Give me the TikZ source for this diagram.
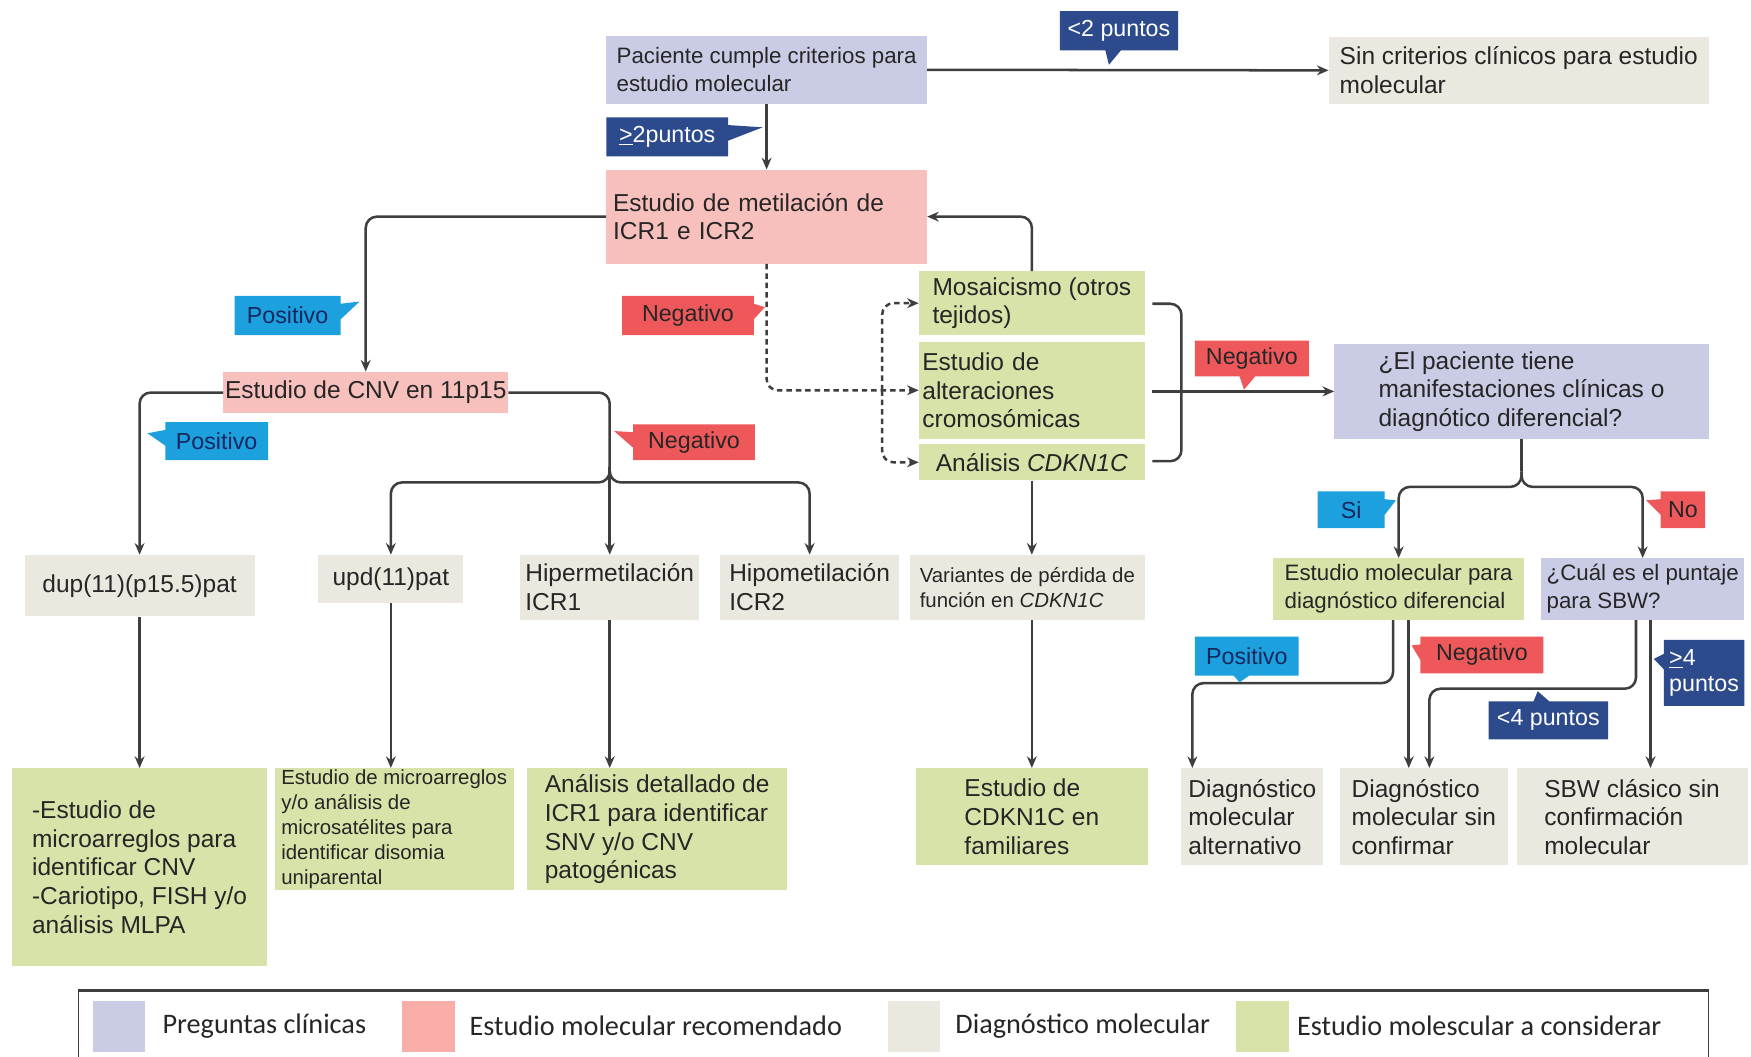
\documentclass[tikz,border=0pt]{standalone}
\usepackage{fontspec}
\setmainfont{Liberation Sans}
\newfontfamily\legendfont{Carlito}
\usetikzlibrary{arrows.meta,calc,positioning,shapes.callouts}

\definecolor{qblue}{RGB}{201,204,228}
\definecolor{rpink}{RGB}{248,192,188}
\definecolor{dbeige}{RGB}{235,233,223}
\definecolor{cgreen}{RGB}{215,227,168}
\definecolor{navyc}{RGB}{44,74,140}
\definecolor{cyanc}{RGB}{28,160,222}
\definecolor{redc}{RGB}{238,88,90}
\definecolor{linec}{RGB}{62,62,62}
\definecolor{txtc}{RGB}{38,38,38}
\definecolor{tagtxt}{RGB}{22,40,95}

\tikzset{
  fbig/.style          = {font=\fontsize{15.6}{18.3}\selectfont},
  fmid/.style          = {font=\fontsize{14.2}{17.8}\selectfont},
  fsmall/.style        = {font=\fontsize{13}{15.8}\selectfont},
  box/.style 2 args    = {inner sep=0pt, align=left, text=txtc,
                          minimum width=#1*0.25mm, minimum height=#2*0.25mm},
  qbox/.style 2 args   = {box={#1}{#2}, fill=qblue},
  rbox/.style 2 args   = {box={#1}{#2}, fill=rpink},
  dbox/.style 2 args   = {box={#1}{#2}, fill=dbeige},
  gbox/.style 2 args   = {box={#1}{#2}, fill=cgreen},
  tag/.style 2 args    = {rectangle callout, inner sep=0pt, align=left,
                          minimum width=#1*0.25mm, minimum height=#2*0.25mm,
                          callout pointer width=3.5mm,
                          font=\fontsize{14.8}{17}\selectfont},
  navytag/.style 2 args= {tag={#1}{#2}, fill=navyc, text=white},
  postag/.style 2 args = {tag={#1}{#2}, fill=cyanc, text=tagtxt},
  negtag/.style 2 args = {tag={#1}{#2}, fill=redc, text=black!85},
  conn/.style          = {draw=linec, line width=1.6pt, rounded corners=2.5mm},
  arr/.style           = {conn, -{Stealth[length=2.6mm,width=2.2mm]}},
  dotarr/.style        = {arr, dash pattern=on 3.5pt off 2.5pt},
  swatch/.style        = {inner sep=0pt, minimum width=11.75mm, minimum height=11.5mm},
  legtext/.style       = {inner sep=0pt, text=txtc, font=\legendfont\fontsize{18}{20}\selectfont},
}

\begin{document}
\begin{tikzpicture}[x=0.25mm, y=-0.25mm]
  \useasboundingbox (0,0) rectangle (1568,946);

  % top
  \node[qbox={287}{61}, fmid] (paciente) at (686.5,62.5)
       {Paciente cumple criterios para\\estudio molecular};
  \node[dbox={340}{60}, fbig] (sincrit) at (1360,63)
       {Sin criterios clínicos para estudio\\molecular};
  \node[rbox={287}{84}, fbig, text width=68.75mm] (metil) at (686.5,194)
       {Estudio de metilación de\\ICR1 e ICR2};

  % left branch
  \node[rbox={255}{37}, fbig] (cnv) at (327.5,351.5) {Estudio de CNV en 11p15};
  \node[dbox={206}{55}, fbig] (dup) at (125,524.5) {dup(11)(p15.5)pat};
  \node[dbox={130}{43}, fbig] (upd) at (350,518.5) {upd(11)pat};
  \node[dbox={160}{58}, fbig] (hiper) at (546,526) {Hipermetilación\\ICR1};
  \node[dbox={160}{58}, fbig] (hipo) at (725,526) {Hipometilación\\ICR2};
  \node[gbox={228}{177}, fbig] (arreglos) at (125,776.5)
       {-Estudio de\\microarreglos para\\identificar CNV\\-Cariotipo, FISH y/o\\análisis MLPA};
  \node[gbox={214}{109}, fsmall] (disomia) at (353,742.5)
       {Estudio de microarreglos\\y/o análisis de\\microsatélites para\\identificar disomia\\uniparental};
  \node[gbox={233}{109}, fbig] (icrdet) at (588.5,742.5)
       {Análisis detallado de\\ICR1 para identificar\\SNV y/o CNV\\patogénicas};

  % middle
  \node[gbox={202}{57}, fbig] (mosaico) at (924,271.5) {Mosaicismo (otros\\tejidos)};
  \node[gbox={202}{87}, fbig, text width=49mm] (alter) at (924,349.5)
       {Estudio de\\alteraciones\\cromosómicas};
  \node[gbox={202}{32}, fbig] (cdkn) at (924,414) {Análisis \textit{CDKN1C}};
  \node[dbox={210}{58}, fsmall] (variantes) at (920,526)
       {Variantes de pérdida de\\función en \textit{CDKN1C}};
  \node[gbox={208}{87}, fbig] (familiares) at (924,731.5) {Estudio de\\CDKN1C en\\familiares};

  % right
  \node[qbox={335}{85}, fbig] (pregunta) at (1362.5,350.5)
       {¿El paciente tiene\\manifestaciones clínicas o\\diagnótico diferencial?};
  \node[gbox={225}{55}, fmid] (difer) at (1252.5,527.5)
       {Estudio molecular para\\diagnóstico diferencial};
  \node[qbox={182}{55}, fmid] (puntaje) at (1471,527.5) {¿Cuál es el puntaje\\para SBW?};
  \node[dbox={127}{87}, fbig] (alterna) at (1121.5,731.5) {Diagnóstico\\molecular\\alternativo};
  \node[dbox={150}{87}, fbig] (sinconf) at (1275,731.5) {Diagnóstico\\molecular sin\\confirmar};
  \node[dbox={207}{87}, fbig] (clasico) at (1461.5,731.5) {SBW clásico sin\\confirmación\\molecular};

  % connectors
  \draw[arr] (paciente.east) -- (sincrit.west);
  \draw[arr] (paciente) -- (metil);
  \draw[arr] (metil.west) -| (cnv.north);
  \draw[arr] (cnv.west) -| (dup.north);
  \coordinate (cnvknee)  at (546,418);
  \coordinate (cnvsplit) at (546,432);
  \draw[conn] (cnv.east) -| (cnvknee);
  \draw[arr] (cnvknee) -- (hiper.north);
  \draw[arr] (cnvknee) |- (cnvsplit -| upd.north) -- (upd.north);
  \draw[arr] (cnvknee) |- (cnvsplit -| hipo.north) -- (hipo.north);
  \draw[arr] (dup.south) -- (arreglos.north);
  \draw[arr] (upd.south) -- (upd.south |- disomia.north);
  \draw[arr] (hiper.south) -- (hiper.south |- icrdet.north);

  \coordinate (dotsplit) at (790,349.5);
  \draw[dotarr] (metil.south) |- (alter.west);
  \draw[dotarr] (dotsplit) |- (mosaico.west);
  \draw[dotarr] (dotsplit) |- (cdkn.west);
  \draw[arr] (mosaico.north) |- (metil.east);

  \coordinate (brtop) at (1032,272);
  \coordinate (brmid) at (1032,350.5);
  \coordinate (brbot) at (1032,413);
  \draw[conn] (brtop) -- ++(26,0) |- (brbot);
  \draw[arr] (brmid) -- (brmid -| pregunta.west);
  \draw[arr] (cdkn.south) -- (cdkn.south |- variantes.north);
  \draw[arr] (cdkn.south |- variantes.south) -- (cdkn.south |- familiares.north);

  \coordinate (qknee)  at (1362.5,422);
  \coordinate (qsplit) at (1362.5,436);
  \draw[conn] (pregunta.south) -- (qknee);
  \draw[arr] (qknee) |- (qsplit -| difer.north) -- (difer.north);
  \draw[arr] (qknee) |- (qsplit -| puntaje.north) -- (puntaje.north);

  \coordinate (difL)   at ($(difer.south)+(-5,0)$);
  \coordinate (difR)   at ($(difer.south)+(9,0)$);
  \coordinate (punL)   at ($(puntaje.south)+(-6,0)$);
  \coordinate (punR)   at ($(puntaje.south)+(7,0)$);
  \coordinate (altin)  at ($(alterna.north west)+(10,0)$);
  \coordinate (confin) at ($(sinconf.north)+(5,0)$);
  \draw[arr] (difL) |- ($(altin)+(0,-76)$) -- (altin);
  \draw[arr] (difR) -- (difR |- sinconf.north);
  \draw[arr] (punL) |- ($(confin)+(0,-71)$) -- (confin);
  \draw[arr] (punR) -- (punR |- clasico.north);

  % labels
  \node[navytag={106}{35}, callout absolute pointer={(993,58)}] (menos2) at (1002,27.5) {<2 puntos};
  \node[navytag={109}{35}, callout absolute pointer={(683,114)}] (mas2) at (597.5,122.5) {\underline{>}2puntos};
  \node[postag={95}{35}, callout absolute pointer={(322,270)}] (pos1) at (257.5,282.5) {Positivo};
  \node[negtag={118}{35}, callout absolute pointer={(685,275)}] (neg1) at (616,282.5) {Negativo};
  \node[postag={92}{34}, callout absolute pointer={(132,388)}] (pos2) at (194,395) {Positivo};
  \node[negtag={109}{32}, callout absolute pointer={(550,386)}] (neg2) at (621.5,396) {Negativo};
  \node[negtag={102}{32}, callout absolute pointer={(1114,349)}] (neg3) at (1121,321) {Negativo};
  \node[postag={60}{33}, callout absolute pointer={(1250,448)}] (si) at (1210,456.5) {Si};
  \node[negtag={40}{33}, callout absolute pointer={(1474,448)}] (no) at (1507,456.5) {No};
  \node[postag={93}{35}, callout absolute pointer={(1110,611)}] (pos3) at (1116.5,587.5) {Positivo};
  \node[negtag={110}{33}, callout absolute pointer={(1264,578)}] (neg4) at (1327,586.5) {Negativo};
  \node[navytag={107}{34}, callout absolute pointer={(1377,619)}] (menos4) at (1386.5,645) {<4 puntos};
  \node[navytag={72}{59}, callout absolute pointer={(1481,590)}] (mas4) at (1526,602.5) {\underline{>}4\\puntos};

  % legend
  \draw[linec, line width=0.8pt] (70,950) -- (70,887) (1530,887) -- (1530,950);
  \draw[linec, line width=2pt] (70,887) -- (1530,887);
  \node[swatch, fill=qblue] (legq) at (106.5,919) {};
  \node[legtext, right=3.75mm of legq] (legqt) {Preguntas clínicas};
  \node[swatch, fill=rpink!90!red] (legr) at (383.5,919) {};
  \node[legtext, right=3.25mm of legr] (legrt) {Estudio molecular recomendado};
  \node[swatch, fill=dbeige] (legd) at (818.5,919) {};
  \node[legtext, right=3.25mm of legd] (legdt) {Diagnóstico molecular};
  \node[swatch, fill=cgreen] (legg) at (1130.5,919) {};
  \node[legtext, right=1.75mm of legg] (leggt) {Estudio molescular a considerar};
\end{tikzpicture}
\end{document}
